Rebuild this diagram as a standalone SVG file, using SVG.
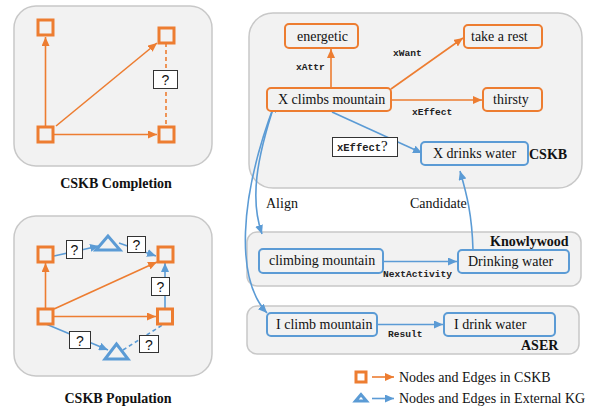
<svg xmlns="http://www.w3.org/2000/svg" width="592" height="407" viewBox="0 0 592 407">
<style>
.panel{fill:#F2F2F2;stroke:#C8C8C8;stroke-width:1.5}
.osq{fill:#F2F2F2;stroke:#ED7D31;stroke-width:3}
.btri{fill:#F2F2F2;stroke:#5B9BD5;stroke-width:3;stroke-linejoin:miter}
.oe{fill:none;stroke:#ED7D31;stroke-width:1.6}
.be{fill:none;stroke:#5B9BD5;stroke-width:1.6}
.dash{stroke-dasharray:4 3}
.qb{fill:#FFFFFF;stroke:#333333;stroke-width:1}
.q{font-family:"Liberation Sans",Arial,sans-serif;font-size:14px;fill:#111;text-anchor:middle}
.onode{fill:#F2F2F2;stroke:#ED7D31;stroke-width:2}
.bnode{fill:#F2F2F2;stroke:#5B9BD5;stroke-width:2}
.nt{font-family:"Liberation Serif","Times New Roman",serif;font-size:14px;fill:#111}
.bt{font-family:"Liberation Serif","Times New Roman",serif;font-size:14px;font-weight:bold;fill:#111}
.mono{font-family:"Liberation Mono","Courier New",monospace;font-size:9.6px;font-weight:bold;fill:#222}
</style>
<defs>
<marker id="ao" markerUnits="userSpaceOnUse" markerWidth="9" markerHeight="8" refX="9" refY="4" orient="auto-start-reverse"><path d="M0,0 L9,4 L0,8 z" fill="#ED7D31"/></marker>
<marker id="ab" markerUnits="userSpaceOnUse" markerWidth="9" markerHeight="8" refX="9" refY="4" orient="auto-start-reverse"><path d="M0,0 L9,4 L0,8 z" fill="#5B9BD5"/></marker>
</defs>

<!-- Panel: CSKB Completion -->
<g id="panel-completion">
<rect class="panel" x="14" y="6" width="198" height="160" rx="22"/>
<text class="bt" x="116" y="188" text-anchor="middle">CSKB Completion</text>
</g>
<g id="c-edges">
<line class="oe" x1="45.5" y1="126" x2="45.5" y2="37" marker-end="url(#ao)"/>
<line class="oe" x1="56" y1="126" x2="157" y2="43" marker-end="url(#ao)"/>
<line class="oe" x1="54" y1="134.5" x2="157" y2="134.5" marker-end="url(#ao)"/>
<line class="oe dash" x1="166" y1="43" x2="166" y2="126"/>
</g>
<g id="c-n1"><rect class="osq" x="38" y="20" width="15" height="15"/></g>
<g id="c-n2"><rect class="osq" x="159" y="28" width="15" height="15"/></g>
<g id="c-n3"><rect class="osq" x="38" y="127" width="15" height="15"/></g>
<g id="c-n4"><rect class="osq" x="159" y="127" width="15" height="15"/></g>
<g id="c-q"><rect class="qb" x="153.5" y="70.5" width="24" height="18"/><text class="q" x="165.5" y="84.5">?</text></g>

<!-- Panel: CSKB Population -->
<g id="panel-population">
<rect class="panel" x="14" y="216" width="198" height="160" rx="22"/>
<text class="bt" x="118" y="403" text-anchor="middle">CSKB Population</text>
</g>
<g id="p-edges">
<line class="oe" x1="45.5" y1="308" x2="45.5" y2="263" marker-end="url(#ao)"/>
<line class="oe" x1="54" y1="309" x2="157" y2="262" marker-end="url(#ao)"/>
<line class="oe" x1="54" y1="316.5" x2="156" y2="316.5" marker-end="url(#ao)"/>
<line class="be" x1="54" y1="256" x2="99" y2="246" marker-end="url(#ab)"/>
<line class="be" x1="119" y1="243" x2="156" y2="256" marker-end="url(#ab)"/>
<line class="be" x1="165" y1="308" x2="165" y2="263" marker-end="url(#ab)"/>
<line class="be" x1="46" y1="324" x2="108" y2="350" marker-end="url(#ab)"/>
<line class="be dash" x1="123" y1="350" x2="164" y2="324"/>
</g>
<g id="p-n1"><rect class="osq" x="38" y="247" width="15" height="15"/></g>
<g id="p-n2"><rect class="osq" x="158" y="247" width="15" height="15"/></g>
<g id="p-n3"><rect class="osq" x="38" y="309" width="15" height="15"/></g>
<g id="p-n4"><rect class="osq" x="157.5" y="309" width="15" height="15"/></g>
<g id="p-t1"><polygon class="btri" points="108,236 96,250 120,250"/></g>
<g id="p-t2"><polygon class="btri" points="116.5,344 105,359 128,359"/></g>
<g id="p-q1"><rect class="qb" x="66.5" y="240.5" width="16" height="18"/><text class="q" x="74.5" y="254.5">?</text></g>
<g id="p-q2"><rect class="qb" x="127.5" y="236.5" width="18" height="16"/><text class="q" x="136.5" y="249.5">?</text></g>
<g id="p-q3"><rect class="qb" x="151.5" y="277.5" width="18" height="18"/><text class="q" x="160.5" y="291.5">?</text></g>
<g id="p-q4"><rect class="qb" x="69.5" y="331.5" width="21" height="17"/><text class="q" x="80" y="345.5">?</text></g>
<g id="p-q5"><rect class="qb" x="139.5" y="335.5" width="19" height="17"/><text class="q" x="149" y="349.5">?</text></g>

<!-- Right side panels -->
<g id="panel-cskb">
<rect class="panel" x="249" y="13" width="333" height="175" rx="24"/>
<text class="bt" x="529" y="159">CSKB</text>
</g>
<g id="panel-knowlywood">
<rect class="panel" x="247" y="232" width="334" height="54" rx="10"/>
<text class="bt" x="490" y="246">Knowlywood</text>
</g>
<g id="panel-aser">
<rect class="panel" x="247" y="306" width="332" height="48" rx="10"/>
<text class="bt" x="521" y="350">ASER</text>
</g>

<g id="connectors">
<line class="oe" x1="331" y1="88" x2="331" y2="49" marker-end="url(#ao)"/>
<line class="oe" x1="391" y1="89" x2="463" y2="38" marker-end="url(#ao)"/>
<line class="oe" x1="391" y1="100" x2="482" y2="100" marker-end="url(#ao)"/>
<line class="be" x1="332" y1="112" x2="422" y2="153" marker-end="url(#ab)"/>
<path class="be" d="M262,234 C250,200 256,160 275,103" marker-start="url(#ab)" marker-end="url(#ab)"/>
<path class="be" d="M267,313 C236,280 238,200 275,103" marker-start="url(#ab)" marker-end="url(#ab)"/>
<path class="be" d="M473,250 C472,215 467,195 460,171" marker-end="url(#ab)"/>
<line class="be" x1="383" y1="261.5" x2="457" y2="261.5" marker-end="url(#ab)"/>
<line class="be" x1="377" y1="324.5" x2="443" y2="324.5" marker-end="url(#ab)"/>
<text class="mono" x="296" y="70">xAttr</text>
<text class="mono" x="393" y="56">xWant</text>
<text class="mono" x="412" y="115">xEffect</text>
<text class="mono" x="383" y="277">NextActivity</text>
<text class="mono" x="388" y="337">Result</text>
<text class="nt" x="266" y="208">Align</text>
<text class="nt" x="410" y="208">Candidate</text>
</g>

<g id="n-xeffectq">
<rect class="qb" x="332.5" y="137.5" width="65" height="19"/>
<text x="337" y="151"><tspan class="mono" style="font-size:10.5px">xEffect</tspan><tspan style="font-family:'Liberation Serif',serif;font-size:15px;fill:#111">?</tspan></text>
</g>
<g id="n-energetic"><rect class="onode" x="285" y="24" width="73" height="24" rx="4"/><text class="nt" x="297" y="41">energetic</text></g>
<g id="n-xclimbs"><rect class="onode" x="267" y="88" width="124" height="23" rx="4"/><text class="nt" x="278" y="104">X climbs mountain</text></g>
<g id="n-rest"><rect class="onode" x="464" y="25" width="78" height="23" rx="4"/><text class="nt" x="471" y="41">take a rest</text></g>
<g id="n-thirsty"><rect class="onode" x="483" y="88" width="59" height="23" rx="4"/><text class="nt" x="493" y="104">thirsty</text></g>
<g id="n-xdrinks"><rect class="bnode" x="421" y="142" width="107" height="23" rx="4"/><text class="nt" x="433" y="158">X drinks water</text></g>
<g id="n-climbing"><rect class="bnode" x="259" y="249" width="124" height="24" rx="4"/><text class="nt" x="269" y="265">climbing mountain</text></g>
<g id="n-drinking"><rect class="bnode" x="458" y="250" width="111" height="23" rx="4"/><text class="nt" x="468" y="266">Drinking water</text></g>
<g id="n-iclimb"><rect class="bnode" x="267" y="313" width="110" height="23" rx="4"/><text class="nt" x="276" y="329">I climb mountain</text></g>
<g id="n-idrink"><rect class="bnode" x="444" y="313" width="111" height="23" rx="4"/><text class="nt" x="454" y="329">I drink water</text></g>

<g id="legend">
<rect x="356" y="372" width="10" height="10" fill="none" stroke="#ED7D31" stroke-width="3"/>
<line class="oe" x1="372" y1="377" x2="394" y2="377" marker-end="url(#ao)"/>
<text class="nt" x="399" y="382">Nodes and Edges in CSKB</text>
<polygon points="361,394.5 355.5,401 366.5,401" fill="none" stroke="#5B9BD5" stroke-width="3"/>
<line class="be" x1="372" y1="398.5" x2="394" y2="398.5" marker-end="url(#ab)"/>
<text class="nt" x="399" y="403">Nodes and Edges in External KG</text>
</g>
</svg>
